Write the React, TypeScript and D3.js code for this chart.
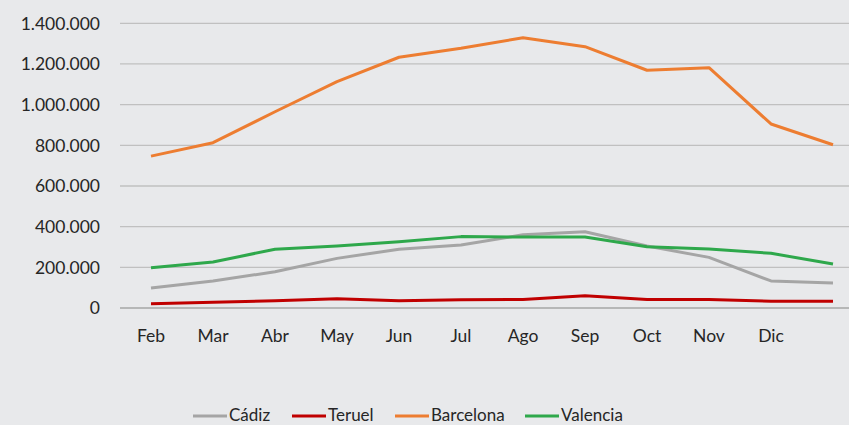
import React from "react";
import * as d3 from "d3";

const months = ["Feb", "Mar", "Abr", "May", "Jun", "Jul", "Ago", "Sep", "Oct", "Nov", "Dic", ""];
const cadiz = [98000, 133000, 178000, 244000, 289000, 310000, 360000, 375000, 305000, 249000, 133000, 123000];
const teruel = [21000, 28000, 36000, 46000, 36000, 40000, 42000, 60000, 42000, 42000, 33000, 33000];
const barcelona = [747000, 813000, 965000, 1113000, 1233000, 1277000, 1329000, 1285000, 1169000, 1182000, 905000, 803000];
const valencia = [198000, 226000, 289000, 305000, 326000, 351000, 349000, 349000, 301000, 290000, 269000, 216000];
const yTicks = [0, 200000, 400000, 600000, 800000, 1000000, 1200000, 1400000];
const seriesNames = ["Cádiz", "Teruel", "Barcelona", "Valencia"];
const seriesColors = ["#a5a5a5", "#c00000", "#ed7d31", "#2ea84b"];

const W = 849;
const H = 425;
const FONT = "Lato, 'Noto Sans', sans-serif";

export default function App() {
  const series = [cadiz, teruel, barcelona, valencia];
  const x = d3.scaleBand<string>().domain(months.map((m, i) => String(i))).range([120, 864]);
  const y = d3.scaleLinear().domain([0, 1400000]).range([308, 23.3]);
  const fmt = (v: number) => d3.format(",")(v).replace(/,/g, ".");
  const cx = (i: number) => (x(String(i)) as number) + x.bandwidth() / 2;
  const line = d3
    .line<number>()
    .x((_, i) => cx(i))
    .y((d) => y(d));

  const legendX = [193, 292, 395, 525];

  return (
    <div style={{ position: "fixed", left: 0, top: 0 }}>
      <svg width={W} height={H} style={{ display: "block" }} fontFamily={FONT}>
        <rect x={0} y={0} width={W} height={H} fill="#e8e9eb" />
        {yTicks.map((t) => (
          <g key={t}>
            <line x1={120} x2={W} y1={y(t)} y2={y(t)} stroke={t === 0 ? "#a6a6a6" : "#c0c0c0"} strokeWidth={1.3} />
            <text x={100} y={y(t)} dy="0.36em" textAnchor="end" fontSize={17.5} fill="#262626">
              {fmt(t)}
            </text>
          </g>
        ))}
        {months.map((m, i) => (
          <text key={i} x={cx(i)} y={342} textAnchor="middle" fontSize={17.5} fill="#262626">
            {m}
          </text>
        ))}
        {series.map((s, k) => (
          <path key={k} d={line(s) || ""} fill="none" stroke={seriesColors[k]} strokeWidth={3} strokeLinejoin="round" />
        ))}
        {seriesNames.map((n, k) => (
          <g key={n}>
            <line x1={legendX[k]} x2={legendX[k] + 34} y1={416} y2={416} stroke={seriesColors[k]} strokeWidth={3} />
            <text x={legendX[k] + 36} y={421} fontSize={17} fill="#262626">
              {n}
            </text>
          </g>
        ))}
      </svg>
    </div>
  );
}
